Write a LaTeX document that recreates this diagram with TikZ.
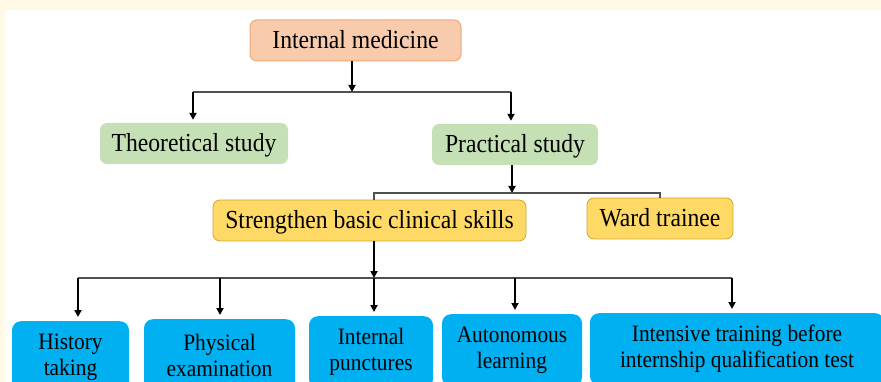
\documentclass[tikz,border=0pt]{standalone}
\usepackage{fontspec}
\setmainfont{Liberation Serif}[FakeStretch=0.91]
\usetikzlibrary{arrows.meta}

\definecolor{cream}{HTML}{FFF9E6}
\definecolor{peach}{HTML}{F8CBAD}
\definecolor{peachline}{HTML}{F4A774}
\definecolor{sage}{HTML}{C5E0B4}
\definecolor{gold}{HTML}{FFD966}
\definecolor{goldline}{HTML}{D4A52A}
\definecolor{sky}{HTML}{00B0F0}
\definecolor{busgray}{HTML}{505050}

\begin{document}
\begin{tikzpicture}[x=1pt,y=-1pt,
  box/.style={rounded corners=7pt, inner sep=0pt, text height=18pt, text depth=2pt,
    font=\fontsize{26}{30}\selectfont},
  headbox/.style={box, draw=peachline, fill=peach, line width=1pt},
  studybox/.style={box, fill=sage},
  skillbox/.style={box, draw=goldline, fill=gold, line width=0.8pt},
  taskbox/.style={rounded corners=9pt, fill=sky, anchor=north, align=center,
    minimum height=72pt, inner sep=0pt, font=\fontsize{23.5}{26}\selectfont},
  arr/.style={-{Triangle[length=7pt,width=7pt]}, line width=2pt},
  bus/.style={color=busgray, line width=1.3pt}]
\useasboundingbox (0,0) rectangle (881,382);
\clip (0,0) rectangle (881,382);
\fill[color=cream] (0,0) rectangle (881,382);
\fill[color=white] (5,10) rectangle (881,382);

\node[headbox, minimum width=211pt, minimum height=41pt] (im) at (355.5,40.5) {Internal medicine};
\node[studybox, minimum width=188pt, minimum height=41pt] (theo) at (194,143.5) {Theoretical study};
\node[studybox, minimum width=166pt, minimum height=41pt] (prac) at (515,144.5) {Practical study};
\node[skillbox, minimum width=313pt, minimum height=41pt] (skill) at (369.5,220.5) {Strengthen basic clinical skills};
\node[skillbox, minimum width=146pt, minimum height=41pt] (ward) at (660,218.5) {Ward trainee};

\node[taskbox, minimum width=117pt] (hist) at (70.5,321) {History\\taking};
\node[taskbox, minimum width=151pt] (phys) at (219.5,319) {Physical\\examination};
\node[taskbox, minimum width=124pt] (punc) at (371,316) {Internal\\punctures};
\node[taskbox, minimum width=140pt] (auto) at (512,314) {Autonomous\\learning};
\node[taskbox, minimum width=294pt] (inten) at (737,313) {Intensive training before\\internship qualification test};

% first level
\coordinate (top) at (352,92);
\coordinate (topl) at (193,92);
\coordinate (topr) at (511,92);
\draw[arr] (im.south -| top) -- (top);
\draw[bus] (topl) -- (topr);
\draw[arr, shorten >=3pt] (topl) -- (topl |- theo.north);
\draw[arr, shorten >=3pt] (topr) -- (topr |- prac.north);

% second level
\coordinate (mid) at (512,193);
\coordinate (midl) at (374,193);
\coordinate (midr) at (660,193);
\draw[arr] (prac.south -| mid) -- (mid);
\draw[bus] (skill.north -| midl) -- (midl) -- (midr) -- (midr |- ward.north);

% third level
\coordinate (low) at (374,278);
\draw[arr] (skill.south -| low) -- (low);
\foreach \x/\n in {78/hist,220/phys,374/punc,515/auto,732/inten}
  \coordinate (t\n) at (\x,278);
\draw[bus] (thist) -- (tinten);
\foreach \n in {hist,phys,punc,auto,inten}
  \draw[arr, shorten >=4pt] (t\n) -- (t\n |- \n.north);
\end{tikzpicture}
\end{document}
